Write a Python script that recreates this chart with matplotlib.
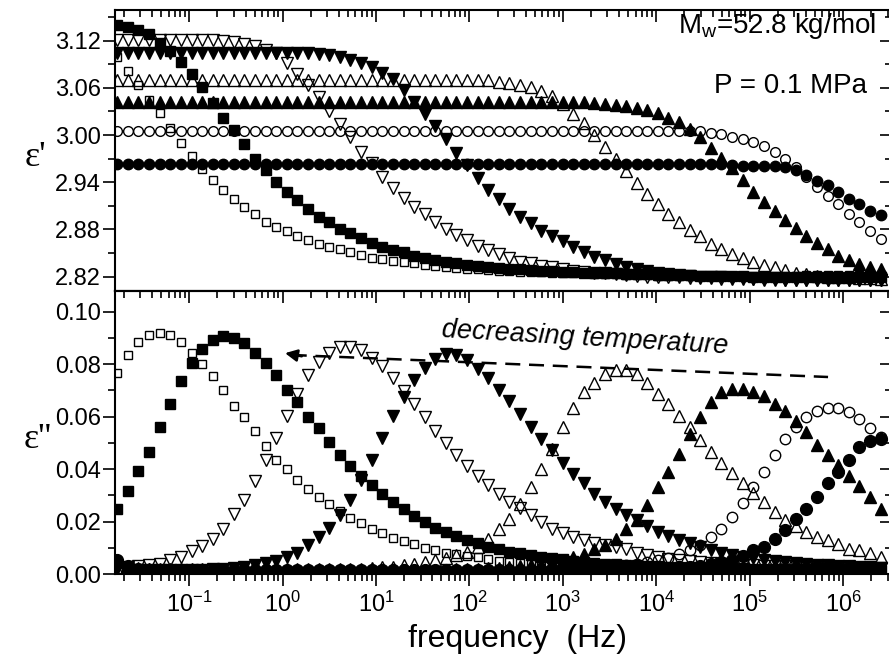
"""Dielectric relaxation, eps' and eps'' vs frequency."""
import matplotlib
matplotlib.use("Agg")
import matplotlib.pyplot as plt
from matplotlib.ticker import LogLocator, MultipleLocator, NullFormatter, FormatStrFormatter

plt.rcParams["font.family"] = ["Liberation Sans", "DejaVu Sans"]
plt.rcParams["mathtext.fontset"] = "custom"
plt.rcParams["mathtext.rm"] = "Liberation Sans"
plt.rcParams["mathtext.it"] = "Liberation Sans:italic"

# frequency grid (Hz)
freq = [0.0169, 0.0220, 0.0286, 0.0371, 0.0482, 0.0626, 0.0813, 0.106, 0.137, 0.178,
        0.231, 0.300, 0.390, 0.506, 0.658, 0.854, 1.11, 1.44, 1.87, 2.43,
        3.16, 4.10, 5.32, 6.91, 8.97, 11.7, 15.1, 19.7, 25.5, 33.2,
        43.1, 55.9, 72.6, 94.3, 122, 159, 207, 268, 348, 452,
        588, 763, 991, 1290, 1670, 2170, 2820, 3660, 4750, 6170,
        8020, 10400, 13500, 17600, 22800, 29600, 38500, 49900, 64900, 84200,
        1.09e5, 1.42e5, 1.85e5, 2.40e5, 3.11e5, 4.04e5, 5.25e5, 6.82e5, 8.85e5, 1.15e6,
        1.49e6, 1.94e6, 2.52e6]
decades = [0.1, 1, 10, 100, 1e3, 1e4, 1e5, 1e6]

# eps' (real part)
e1_sq_open = [3.099, 3.081, 3.063, 3.044, 3.028, 3.009, 2.990, 2.973, 2.957, 2.943,
              2.930, 2.919, 2.908, 2.899, 2.890, 2.883, 2.878, 2.872, 2.867, 2.861,
              2.858, 2.855, 2.851, 2.848, 2.844, 2.842, 2.840, 2.838, 2.837, 2.835,
              2.833, 2.832, 2.831, 2.830, 2.829, 2.828, 2.827, 2.827, 2.826, 2.826,
              2.826, 2.825, 2.825, 2.824, 2.824, 2.823, 2.823, 2.823, 2.822, 2.822,
              2.822, 2.821, 2.821, 2.821, 2.821, 2.821, 2.821, 2.821, 2.821, 2.821,
              2.821, 2.821, 2.821, 2.821, 2.821, 2.822, 2.822, 2.822, 2.822, 2.822,
              2.822, 2.822, 2.822]
e1_sq_fill = [3.140, 3.138, 3.133, 3.128, 3.117, 3.107, 3.093, 3.078, 3.061, 3.041,
              3.022, 3.006, 2.988, 2.970, 2.955, 2.940, 2.928, 2.917, 2.906, 2.896,
              2.889, 2.881, 2.875, 2.869, 2.863, 2.858, 2.854, 2.851, 2.846, 2.844,
              2.841, 2.839, 2.837, 2.835, 2.833, 2.832, 2.831, 2.830, 2.829, 2.828,
              2.827, 2.827, 2.826, 2.826, 2.825, 2.825, 2.824, 2.824, 2.823, 2.823,
              2.823, 2.822, 2.822, 2.822, 2.822, 2.821, 2.821, 2.821, 2.821, 2.821,
              2.820, 2.820, 2.820, 2.820, 2.820, 2.820, 2.820, 2.820, 2.820, 2.820,
              2.820, 2.820, 2.820]
e1_tri_dn_open = [3.121, 3.121, 3.121, 3.121, 3.121, 3.121, 3.121, 3.121, 3.121, 3.121,
                  3.120, 3.118, 3.116, 3.113, 3.108, 3.104, 3.091, 3.078, 3.063, 3.048,
                  3.031, 3.014, 2.998, 2.978, 2.964, 2.946, 2.933, 2.920, 2.909, 2.900,
                  2.890, 2.881, 2.873, 2.866, 2.859, 2.854, 2.849, 2.844, 2.839, 2.837,
                  2.834, 2.832, 2.829, 2.827, 2.826, 2.825, 2.824, 2.823, 2.822, 2.821,
                  2.820, 2.820, 2.819, 2.819, 2.818, 2.818, 2.818, 2.817, 2.817, 2.817,
                  2.817, 2.816, 2.816, 2.816, 2.816, 2.816, 2.815, 2.815, 2.815, 2.815,
                  2.815, 2.815, 2.815]
e1_tri_dn_fill = [3.104, 3.104, 3.104, 3.104, 3.104, 3.104, 3.104, 3.104, 3.104, 3.104,
                  3.104, 3.104, 3.104, 3.104, 3.104, 3.104, 3.104, 3.104, 3.104, 3.103,
                  3.102, 3.099, 3.096, 3.091, 3.087, 3.079, 3.071, 3.057, 3.042, 3.027,
                  3.011, 2.995, 2.977, 2.962, 2.945, 2.930, 2.918, 2.906, 2.896, 2.888,
                  2.878, 2.871, 2.865, 2.857, 2.851, 2.845, 2.841, 2.836, 2.832, 2.829,
                  2.827, 2.825, 2.823, 2.822, 2.821, 2.820, 2.819, 2.819, 2.818, 2.818,
                  2.817, 2.817, 2.817, 2.816, 2.816, 2.816, 2.816, 2.816, 2.815, 2.815,
                  2.815, 2.815, 2.815]
e1_tri_up_open = [3.070, 3.070, 3.070, 3.070, 3.070, 3.070, 3.070, 3.070, 3.070, 3.070,
                  3.070, 3.070, 3.070, 3.070, 3.070, 3.070, 3.070, 3.070, 3.070, 3.070,
                  3.070, 3.070, 3.070, 3.070, 3.070, 3.070, 3.070, 3.070, 3.070, 3.070,
                  3.070, 3.070, 3.070, 3.070, 3.070, 3.070, 3.068, 3.066, 3.063, 3.061,
                  3.056, 3.049, 3.039, 3.027, 3.015, 3.000, 2.985, 2.970, 2.954, 2.939,
                  2.925, 2.912, 2.900, 2.890, 2.879, 2.871, 2.862, 2.855, 2.849, 2.844,
                  2.838, 2.835, 2.832, 2.828, 2.825, 2.823, 2.821, 2.820, 2.819, 2.819,
                  2.818, 2.818, 2.817]
e1_tri_up_fill = [3.042, 3.042, 3.042, 3.042, 3.042, 3.042, 3.042, 3.042, 3.042, 3.042,
                  3.042, 3.042, 3.042, 3.042, 3.042, 3.042, 3.042, 3.042, 3.042, 3.042,
                  3.042, 3.042, 3.042, 3.042, 3.042, 3.042, 3.042, 3.042, 3.042, 3.042,
                  3.042, 3.042, 3.042, 3.042, 3.042, 3.042, 3.042, 3.042, 3.042, 3.042,
                  3.042, 3.042, 3.042, 3.042, 3.042, 3.041, 3.040, 3.038, 3.037, 3.035,
                  3.032, 3.028, 3.022, 3.017, 3.008, 2.997, 2.984, 2.971, 2.958, 2.943,
                  2.927, 2.915, 2.904, 2.892, 2.882, 2.872, 2.863, 2.855, 2.846, 2.841,
                  2.836, 2.832, 2.829]
e1_circ_open = [3.005, 3.005, 3.005, 3.005, 3.005, 3.005, 3.005, 3.005, 3.005, 3.005,
                3.005, 3.005, 3.005, 3.005, 3.005, 3.005, 3.005, 3.005, 3.005, 3.005,
                3.005, 3.005, 3.005, 3.005, 3.005, 3.005, 3.005, 3.005, 3.005, 3.005,
                3.005, 3.005, 3.005, 3.005, 3.005, 3.005, 3.005, 3.005, 3.005, 3.005,
                3.005, 3.005, 3.005, 3.005, 3.005, 3.005, 3.005, 3.005, 3.005, 3.005,
                3.005, 3.005, 3.005, 3.005, 3.005, 3.005, 3.003, 3.001, 2.998, 2.995,
                2.991, 2.986, 2.978, 2.970, 2.959, 2.946, 2.934, 2.923, 2.912, 2.900,
                2.889, 2.878, 2.868]
e1_circ_fill = [2.963, 2.963, 2.963, 2.963, 2.963, 2.963, 2.963, 2.963, 2.963, 2.963,
                2.963, 2.963, 2.963, 2.963, 2.963, 2.963, 2.963, 2.963, 2.963, 2.963,
                2.963, 2.963, 2.963, 2.963, 2.963, 2.963, 2.963, 2.963, 2.963, 2.963,
                2.963, 2.963, 2.963, 2.963, 2.963, 2.963, 2.963, 2.963, 2.963, 2.963,
                2.963, 2.963, 2.963, 2.963, 2.963, 2.963, 2.963, 2.963, 2.963, 2.963,
                2.963, 2.963, 2.963, 2.963, 2.963, 2.963, 2.963, 2.963, 2.962, 2.961,
                2.961, 2.961, 2.960, 2.959, 2.955, 2.949, 2.942, 2.936, 2.927, 2.919,
                2.912, 2.903, 2.898]

# eps'' (imaginary part)
e2_sq_open = [0.0768, 0.0834, 0.0884, 0.0913, 0.0917, 0.0911, 0.0885, 0.0841, 0.0802, 0.0753,
              0.0702, 0.0641, 0.0597, 0.0546, 0.0487, 0.0435, 0.0401, 0.0360, 0.0325, 0.0293,
              0.0266, 0.0239, 0.0215, 0.0196, 0.0173, 0.0157, 0.0139, 0.0126, 0.0113, 0.0101,
              0.0091, 0.0082, 0.0075, 0.0069, 0.0063, 0.0056, 0.0050, 0.0045, 0.0041, 0.0038,
              0.0035, 0.0033, 0.0031, 0.0029, 0.0028, 0.0027, 0.0026, 0.0025, 0.0024, 0.0023,
              0.0023, 0.0022, 0.0022, 0.0021, 0.0021, 0.0020, 0.0020, 0.0020, 0.0019, 0.0019,
              0.0019, 0.0018, 0.0018, 0.0018, 0.0018, 0.0017, 0.0017, 0.0017, 0.0017, 0.0016,
              0.0016, 0.0016, 0.0016]
e2_sq_fill = [0.0249, 0.0316, 0.0391, 0.0467, 0.0559, 0.0650, 0.0734, 0.0803, 0.0857, 0.0892,
              0.0907, 0.0898, 0.0879, 0.0844, 0.0803, 0.0758, 0.0701, 0.0654, 0.0597, 0.0555,
              0.0502, 0.0455, 0.0411, 0.0372, 0.0338, 0.0304, 0.0274, 0.0249, 0.0220, 0.0199,
              0.0177, 0.0161, 0.0144, 0.0129, 0.0117, 0.0104, 0.0094, 0.0085, 0.0079, 0.0072,
              0.0066, 0.0061, 0.0056, 0.0050, 0.0046, 0.0043, 0.0040, 0.0037, 0.0035, 0.0033,
              0.0031, 0.0029, 0.0028, 0.0027, 0.0026, 0.0025, 0.0024, 0.0023, 0.0022, 0.0022,
              0.0021, 0.0021, 0.0020, 0.0020, 0.0019, 0.0019, 0.0019, 0.0018, 0.0018, 0.0018,
              0.0018, 0.0017, 0.0017]
e2_tri_dn_open = [0.0027, 0.0028, 0.0030, 0.0034, 0.0040, 0.0053, 0.0063, 0.0088, 0.0106, 0.0135,
                  0.0173, 0.0230, 0.0281, 0.0353, 0.0435, 0.0519, 0.0603, 0.0688, 0.0758, 0.0809,
                  0.0844, 0.0865, 0.0865, 0.0854, 0.0825, 0.0793, 0.0749, 0.0698, 0.0648, 0.0597,
                  0.0546, 0.0498, 0.0454, 0.0411, 0.0373, 0.0338, 0.0304, 0.0274, 0.0252, 0.0224,
                  0.0199, 0.0173, 0.0157, 0.0142, 0.0128, 0.0120, 0.0112, 0.0104, 0.0094, 0.0082,
                  0.0072, 0.0066, 0.0058, 0.0052, 0.0048, 0.0045, 0.0042, 0.0040, 0.0038, 0.0036,
                  0.0034, 0.0032, 0.0031, 0.0030, 0.0029, 0.0028, 0.0027, 0.0026, 0.0025, 0.0024,
                  0.0023, 0.0023, 0.0022]
e2_tri_dn_fill = [0.0020, 0.0017, 0.0016, 0.0016, 0.0016, 0.0016, 0.0016, 0.0017, 0.0017, 0.0018,
                  0.0018, 0.0022, 0.0028, 0.0034, 0.0043, 0.0050, 0.0066, 0.0080, 0.0110, 0.0142,
                  0.0177, 0.0225, 0.0284, 0.0359, 0.0433, 0.0519, 0.0603, 0.0673, 0.0739, 0.0787,
                  0.0819, 0.0838, 0.0834, 0.0815, 0.0783, 0.0749, 0.0702, 0.0660, 0.0610, 0.0559,
                  0.0516, 0.0474, 0.0422, 0.0383, 0.0346, 0.0306, 0.0274, 0.0249, 0.0224, 0.0205,
                  0.0182, 0.0161, 0.0144, 0.0129, 0.0119, 0.0104, 0.0091, 0.0082, 0.0072, 0.0066,
                  0.0060, 0.0055, 0.0050, 0.0046, 0.0042, 0.0039, 0.0036, 0.0033, 0.0031, 0.0029,
                  0.0027, 0.0025, 0.0024]
e2_tri_up_open = [0.0019, 0.0019, 0.0019, 0.0019, 0.0019, 0.0019, 0.0019, 0.0019, 0.0019, 0.0019,
                  0.0019, 0.0019, 0.0019, 0.0019, 0.0019, 0.0019, 0.0019, 0.0019, 0.0019, 0.0019,
                  0.0019, 0.0019, 0.0019, 0.0020, 0.0022, 0.0025, 0.0028, 0.0034, 0.0040, 0.0047,
                  0.0053, 0.0062, 0.0072, 0.0085, 0.0104, 0.0135, 0.0170, 0.0209, 0.0268, 0.0331,
                  0.0401, 0.0475, 0.0559, 0.0631, 0.0692, 0.0730, 0.0762, 0.0777, 0.0777, 0.0762,
                  0.0727, 0.0688, 0.0648, 0.0603, 0.0559, 0.0511, 0.0464, 0.0422, 0.0384, 0.0348,
                  0.0309, 0.0274, 0.0236, 0.0207, 0.0182, 0.0161, 0.0142, 0.0129, 0.0114, 0.0097,
                  0.0091, 0.0079, 0.0063]
e2_tri_up_fill = [0.0045, 0.0030, 0.0022, 0.0018, 0.0016, 0.0015, 0.0014, 0.0014, 0.0014, 0.0014,
                  0.0014, 0.0014, 0.0014, 0.0014, 0.0014, 0.0014, 0.0014, 0.0014, 0.0014, 0.0014,
                  0.0014, 0.0014, 0.0014, 0.0014, 0.0014, 0.0015, 0.0015, 0.0015, 0.0016, 0.0016,
                  0.0017, 0.0017, 0.0018, 0.0019, 0.0020, 0.0022, 0.0024, 0.0026, 0.0029, 0.0033,
                  0.0038, 0.0045, 0.0053, 0.0063, 0.0078, 0.0095, 0.0112, 0.0135, 0.0173, 0.0205,
                  0.0264, 0.0331, 0.0388, 0.0458, 0.0534, 0.0597, 0.0654, 0.0692, 0.0705, 0.0705,
                  0.0695, 0.0679, 0.0648, 0.0622, 0.0584, 0.0540, 0.0492, 0.0452, 0.0414, 0.0372,
                  0.0335, 0.0293, 0.0249]
e2_circ_open = [0.0020, 0.0016, 0.0015, 0.0014, 0.0014, 0.0014, 0.0014, 0.0014, 0.0014, 0.0014,
                0.0014, 0.0014, 0.0014, 0.0014, 0.0014, 0.0014, 0.0014, 0.0014, 0.0014, 0.0014,
                0.0014, 0.0014, 0.0014, 0.0014, 0.0014, 0.0014, 0.0014, 0.0014, 0.0014, 0.0014,
                0.0014, 0.0014, 0.0014, 0.0014, 0.0015, 0.0015, 0.0015, 0.0016, 0.0016, 0.0017,
                0.0018, 0.0019, 0.0020, 0.0022, 0.0024, 0.0026, 0.0029, 0.0032, 0.0036, 0.0040,
                0.0045, 0.0052, 0.0060, 0.0075, 0.0091, 0.0110, 0.0142, 0.0173, 0.0218, 0.0271,
                0.0331, 0.0388, 0.0452, 0.0515, 0.0562, 0.0597, 0.0620, 0.0633, 0.0633, 0.0616,
                0.0591, 0.0557, 0.0521]
e2_circ_fill = [0.0055, 0.0030, 0.0020, 0.0016, 0.0014, 0.0014, 0.0014, 0.0014, 0.0014, 0.0014,
                0.0014, 0.0014, 0.0014, 0.0014, 0.0014, 0.0014, 0.0014, 0.0014, 0.0014, 0.0014,
                0.0014, 0.0014, 0.0014, 0.0014, 0.0014, 0.0014, 0.0014, 0.0014, 0.0014, 0.0014,
                0.0014, 0.0014, 0.0014, 0.0014, 0.0014, 0.0014, 0.0014, 0.0014, 0.0014, 0.0014,
                0.0014, 0.0014, 0.0014, 0.0014, 0.0015, 0.0015, 0.0015, 0.0016, 0.0016, 0.0017,
                0.0018, 0.0020, 0.0022, 0.0025, 0.0028, 0.0032, 0.0038, 0.0045, 0.0055, 0.0068,
                0.0091, 0.0104, 0.0135, 0.0167, 0.0209, 0.0249, 0.0293, 0.0348, 0.0388, 0.0433,
                0.0483, 0.0506, 0.0515]

# marker, face, size in top panel, size in bottom panel (pt)
series = [
    (e1_sq_open, e2_sq_open, "s", "none", 5.5, 5.5),
    (e1_sq_fill, e2_sq_fill, "s", "k", 7.0, 7.0),
    (e1_tri_dn_open, e2_tri_dn_open, "v", "none", 8.0, 8.0),
    (e1_tri_dn_fill, e2_tri_dn_fill, "v", "k", 8.0, 8.0),
    (e1_tri_up_open, e2_tri_up_open, "^", "none", 8.0, 8.0),
    (e1_tri_up_fill, e2_tri_up_fill, "^", "k", 8.0, 8.0),
    (e1_circ_open, e2_circ_open, "o", "none", 7.0, 7.5),
    (e1_circ_fill, e2_circ_fill, "o", "k", 7.5, 8.5),
]

fig = plt.figure(figsize=(8.89, 6.54), dpi=100)
ax1 = fig.add_axes([0.1299, 0.5555, 0.8735, 0.4292])
ax2 = fig.add_axes([0.1299, 0.1223, 0.8735, 0.4332])

for e1, e2, m, fc, ms1, ms2 in series:
    kw = dict(ls="none", marker=m, mfc=fc, mec="k", mew=1.0)
    ax1.plot(freq, e1, ms=ms1, **kw)
    ax2.plot(freq, e2, ms=ms2, **kw)

TICK_FS = 17
for ax in (ax1, ax2):
    ax.set_xscale("log")
    ax.set_xticks(decades)
    ax.xaxis.set_minor_locator(LogLocator(base=10, subs=range(2, 10), numticks=20))
    ax.xaxis.set_minor_formatter(NullFormatter())
    ax.set_xlim(0.01622, 3.34e6)
    for sp in ax.spines.values():
        sp.set_linewidth(1.5)
    ax.tick_params(axis="both", which="major", length=8.5, width=1.2, labelsize=TICK_FS)
    ax.tick_params(axis="both", which="minor", length=5, width=1.2)
    ax.tick_params(axis="y", which="both", direction="out", left=True, right=False, pad=2)
    ax.yaxis.set_major_formatter(FormatStrFormatter("%.2f"))

ax1.set_ylim(2.802, 3.159)
ax1.yaxis.set_major_locator(MultipleLocator(0.06))
ax1.yaxis.set_minor_locator(MultipleLocator(0.03))
ax1.tick_params(axis="x", which="both", direction="in", top=True, bottom=False,
                labeltop=False, labelbottom=False)

ax2.set_ylim(0.0, 0.108)
ax2.yaxis.set_major_locator(MultipleLocator(0.02))
ax2.yaxis.set_minor_locator(MultipleLocator(0.01))
ax2.tick_params(axis="x", which="both", direction="out", top=False, bottom=True, pad=4)

# ticks pointing down from the shared border
sec = ax2.secondary_xaxis("top")
sec.set_xticks(decades)
sec.xaxis.set_minor_locator(LogLocator(base=10, subs=range(2, 10), numticks=20))
sec.xaxis.set_major_formatter(NullFormatter())
sec.xaxis.set_minor_formatter(NullFormatter())
sec.tick_params(which="major", direction="in", length=8.5, width=1.2)
sec.tick_params(which="minor", direction="in", length=5, width=1.2)
sec.spines["top"].set_linewidth(1.5)

# inward ticks on the right side
for ax, step, minor in ((ax1, 0.06, 0.03), (ax2, 0.02, 0.01)):
    sy = ax.secondary_yaxis("right")
    sy.yaxis.set_major_locator(MultipleLocator(step))
    sy.yaxis.set_minor_locator(MultipleLocator(minor))
    sy.yaxis.set_major_formatter(NullFormatter())
    sy.yaxis.set_minor_formatter(NullFormatter())
    sy.tick_params(which="major", direction="in", length=8.5, width=1.2)
    sy.tick_params(which="minor", direction="in", length=5, width=1.2)

# labels
serif = ["Liberation Serif", "DejaVu Serif"]
fig.text(35 / 889, 1 - 158 / 654, "\u03b5'", family=serif, fontsize=26, ha="center", va="center")
fig.text(38 / 889, 1 - 440 / 654, "\u03b5''", family=serif, fontsize=26, ha="center", va="center")
fig.text(517 / 889, 1 - 647 / 654, "frequency  (Hz)", fontsize=23, ha="center", va="baseline")

ax1.text(0.979, 0.918, r"M$_\mathregular{w}$=52.8 kg/mol", transform=ax1.transAxes,
         fontsize=20, ha="right", va="baseline")
ax1.text(0.9674, 0.704, "P = 0.1 MPa", transform=ax1.transAxes,
         fontsize=20, ha="right", va="baseline")

ax2.text(50.4, 0.0905, "decreasing temperature", fontsize=19.5, style="italic",
         rotation=-3.3, rotation_mode="anchor", ha="left", va="baseline")
ax2.plot([1.25, 6.9e5], [0.0835, 0.0751], color="k", lw=1.8, ls=(0, (6, 3.5)))
ax2.annotate("", xy=(1.06, 0.0842), xytext=(1.6, 0.0830),
             arrowprops=dict(arrowstyle="-|>", color="k", lw=1.8, mutation_scale=18,
                             shrinkA=0, shrinkB=0))

fig.savefig("out.png", dpi=100)
